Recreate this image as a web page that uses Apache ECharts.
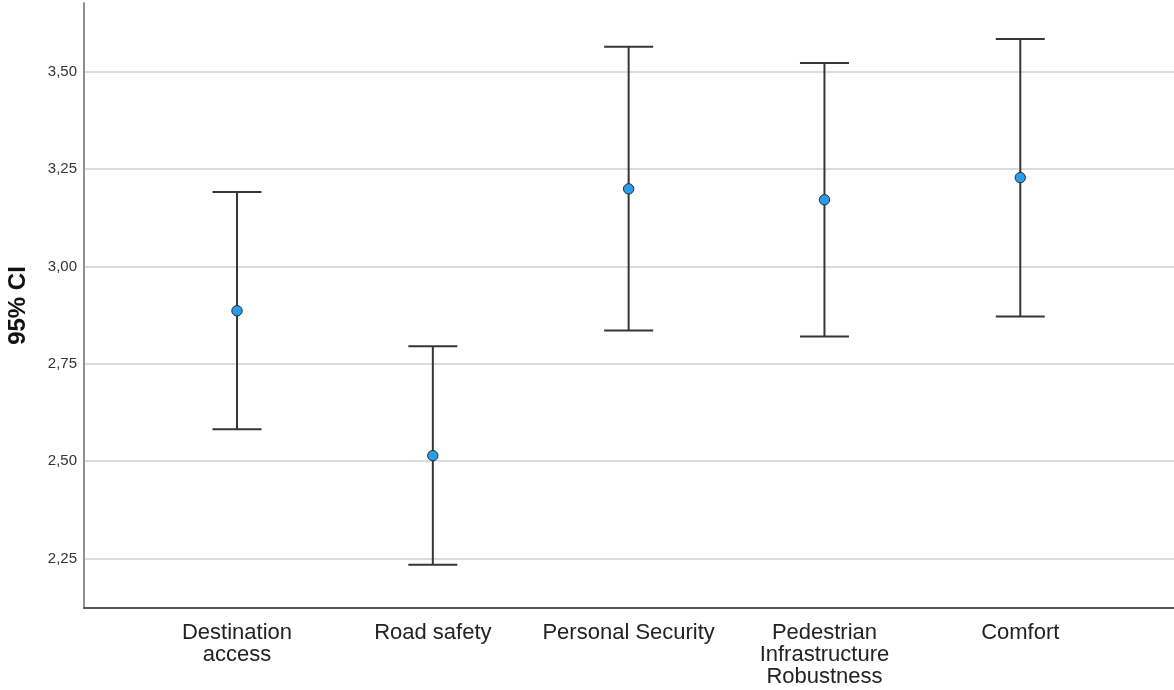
<!DOCTYPE html>
<html>
<head>
<meta charset="utf-8">
<script src="https://cdn.jsdelivr.net/npm/echarts@6/dist/echarts.min.js"></script>
<style>
  html, body { margin: 0; padding: 0; background: #ffffff; }
  #chart { width: 1174px; height: 690px; }
</style>
</head>
<body>
<div id="chart"></div>
<script>
// Mean and 95% confidence interval for each perception dimension
const categories = [
  'Destination\naccess',
  'Road safety',
  'Personal Security',
  'Pedestrian\nInfrastructure\nRobustness',
  'Comfort'
];
const means = [2.886, 2.514, 3.199, 3.171, 3.228];
const lower = [2.582, 2.234, 2.835, 2.820, 2.871];
const upper = [3.191, 2.795, 3.564, 3.522, 3.584];
const yTicks = [2.25, 2.50, 2.75, 3.00, 3.25, 3.50];
const categoryIndex = [0, 1, 2, 3, 4];

const FONT = "'Liberation Sans', Arial, sans-serif";
const fmtComma = v => Number(v).toFixed(2).replace('.', ',');

const ciData = categories.map((c, i) => [i, lower[i], upper[i], means[i]]);

function renderErrorBar(params, api) {
  const x = api.value(0);
  const pLo = api.coord([x, api.value(1)]);
  const pHi = api.coord([x, api.value(2)]);
  const pM = api.coord([x, api.value(3)]);
  const cap = 24.5;
  const ls = { stroke: '#363636', lineWidth: 2 };
  return {
    type: 'group',
    children: [
      { type: 'line', shape: { x1: pLo[0], y1: pLo[1], x2: pHi[0], y2: pHi[1] }, style: ls },
      { type: 'line', shape: { x1: pHi[0] - cap, y1: pHi[1], x2: pHi[0] + cap, y2: pHi[1] }, style: ls },
      { type: 'line', shape: { x1: pLo[0] - cap, y1: pLo[1], x2: pLo[0] + cap, y2: pLo[1] }, style: ls },
      { type: 'circle', shape: { cx: pM[0], cy: pM[1], r: 5.2 },
        style: { fill: '#2b9ceb', stroke: '#2a2a2a', lineWidth: 1 } }
    ]
  };
}

const chart = echarts.init(document.getElementById('chart'), null, { renderer: 'canvas' });
chart.setOption({
  animation: false,
  backgroundColor: '#ffffff',
  textStyle: { fontFamily: FONT },
  grid: { left: 84, right: 0, top: 3, bottom: 82, containLabel: false, outerBoundsMode: 'none' },
  xAxis: {
    type: 'value',
    min: -0.7814,
    max: 4.785,
    splitLine: { show: false },
    axisTick: { show: false },
    axisLine: { show: true, onZero: false, lineStyle: { color: '#555555', width: 2 } },
    axisLabel: {
      customValues: categoryIndex,
      formatter: v => categories[Math.round(v)],
      fontFamily: FONT,
      fontSize: 22,
      lineHeight: 22,
      color: '#222222',
      margin: 14
    }
  },
  yAxis: {
    type: 'value',
    min: 2.1227,
    max: 3.6763,
    name: '95% CI',
    nameLocation: 'middle',
    nameGap: 54,
    nameTextStyle: { fontFamily: FONT, fontSize: 24, fontWeight: 'bold', color: '#111111' },
    splitLine: { show: false },
    axisTick: { show: false },
    axisLine: { show: true, onZero: false, lineStyle: { color: '#8f8f8f', width: 2 } },
    axisLabel: {
      customValues: yTicks,
      formatter: fmtComma,
      fontFamily: FONT,
      fontSize: 15,
      color: '#333333',
      margin: 7
    }
  },
  series: [
    {
      // horizontal reference lines at each labelled value
      type: 'line',
      data: [],
      z: 0,
      silent: true,
      markLine: {
        silent: true,
        symbol: 'none',
        z: 0,
        label: { show: false },
        lineStyle: { color: '#cfcfcf', width: 1.5, type: 'solid' },
        data: yTicks.map(v => ({ yAxis: v }))
      }
    },
    {
      type: 'custom',
      z: 10,
      renderItem: renderErrorBar,
      encode: { x: 0, y: [1, 2, 3] },
      data: ciData
    }
  ]
});
</script>
</body>
</html>
